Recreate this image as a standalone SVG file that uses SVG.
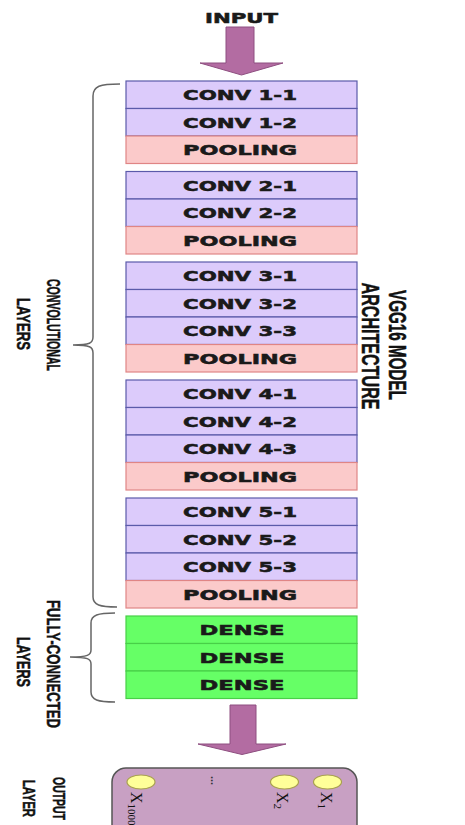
<svg xmlns="http://www.w3.org/2000/svg" width="465" height="825" viewBox="0 0 465 825">
<style>
.conv{fill:#dccbfb;stroke:#5b5baa;stroke-width:1.2}
.pool{fill:#fbcaca;stroke:#e08585;stroke-width:1.2}
.dense{fill:#66ff66;stroke:#48cf48;stroke-width:1.2}
.lbl{font-family:"DejaVu Sans",sans-serif;font-weight:bold;font-size:14.5px;fill:#1a1a1a;stroke:#1a1a1a;stroke-width:0.55;text-anchor:middle}
.side{font-family:"Liberation Sans",Arial,sans-serif;font-weight:bold;fill:#111;stroke:#111;stroke-width:0.5;text-anchor:middle}
.arrow{fill:#b36ca2;stroke:#8e4f80;stroke-width:1}
.brace{fill:none;stroke:#666;stroke-width:1.5}
.bub{fill:#ffff99;stroke:#a8a050;stroke-width:1.2}
.xl{font-family:"Liberation Serif","Times New Roman",serif;fill:#111;font-size:16px}
</style>
<rect width="465" height="825" fill="#ffffff"/>

<g id="input">
<text class="lbl" x="241.5" y="23.3" font-size="12" textLength="73" lengthAdjust="spacingAndGlyphs">INPUT</text>
</g>

<g id="connectors">
<polygon class="arrow" points="226,27 254,27 254,63 283,63 241.5,75 200,63 226,63"/>
<polygon class="arrow" points="230,705 256,705 256,744 286,744 242,754.5 198,744 230,744"/>
<path class="brace" d="M120,84 C100,84 93,86 93,96 V337 C93,343 90,345 73,345 C90,345 93,347 93,353 V597 C93,605 100,607 117,607"/>
<path class="brace" d="M115,613 C98,613 91,615 91,623 V650 C91,655 88,657 70,657 C88,657 91,659 91,664 V692 C91,700 98,702 115,702"/>
</g>

<g id="block1">
<rect class="conv" x="126" y="81" width="231" height="27.5"/>
<text class="lbl" x="240" y="100" textLength="114" lengthAdjust="spacingAndGlyphs">CONV 1-1</text>
<rect class="conv" x="126" y="108.5" width="231" height="27.5"/>
<text class="lbl" x="240" y="127.5" textLength="114" lengthAdjust="spacingAndGlyphs">CONV 1-2</text>
<rect class="pool" x="126" y="136" width="231" height="27.5"/>
<text class="lbl" x="240" y="155" textLength="114" lengthAdjust="spacingAndGlyphs">POOLING</text>
</g>

<g id="block2">
<rect class="conv" x="126" y="171.5" width="231" height="27.5"/>
<text class="lbl" x="240" y="190.5" textLength="114" lengthAdjust="spacingAndGlyphs">CONV 2-1</text>
<rect class="conv" x="126" y="199" width="231" height="27.5"/>
<text class="lbl" x="240" y="218" textLength="114" lengthAdjust="spacingAndGlyphs">CONV 2-2</text>
<rect class="pool" x="126" y="226.5" width="231" height="27.5"/>
<text class="lbl" x="240" y="245.5" textLength="114" lengthAdjust="spacingAndGlyphs">POOLING</text>
</g>

<g id="block3">
<rect class="conv" x="126" y="262" width="231" height="27.5"/>
<text class="lbl" x="240" y="281" textLength="114" lengthAdjust="spacingAndGlyphs">CONV 3-1</text>
<rect class="conv" x="126" y="289.5" width="231" height="27.5"/>
<text class="lbl" x="240" y="308.5" textLength="114" lengthAdjust="spacingAndGlyphs">CONV 3-2</text>
<rect class="conv" x="126" y="317" width="231" height="27.5"/>
<text class="lbl" x="240" y="336" textLength="114" lengthAdjust="spacingAndGlyphs">CONV 3-3</text>
<rect class="pool" x="126" y="344.5" width="231" height="27.5"/>
<text class="lbl" x="240" y="363.5" textLength="114" lengthAdjust="spacingAndGlyphs">POOLING</text>
</g>

<g id="block4">
<rect class="conv" x="126" y="380" width="231" height="27.5"/>
<text class="lbl" x="240" y="399" textLength="114" lengthAdjust="spacingAndGlyphs">CONV 4-1</text>
<rect class="conv" x="126" y="407.5" width="231" height="27.5"/>
<text class="lbl" x="240" y="426.5" textLength="114" lengthAdjust="spacingAndGlyphs">CONV 4-2</text>
<rect class="conv" x="126" y="435" width="231" height="27.5"/>
<text class="lbl" x="240" y="454" textLength="114" lengthAdjust="spacingAndGlyphs">CONV 4-3</text>
<rect class="pool" x="126" y="462.5" width="231" height="27.5"/>
<text class="lbl" x="240" y="481.5" textLength="114" lengthAdjust="spacingAndGlyphs">POOLING</text>
</g>

<g id="block5">
<rect class="conv" x="126" y="498" width="231" height="27.5"/>
<text class="lbl" x="240" y="517" textLength="114" lengthAdjust="spacingAndGlyphs">CONV 5-1</text>
<rect class="conv" x="126" y="525.5" width="231" height="27.5"/>
<text class="lbl" x="240" y="544.5" textLength="114" lengthAdjust="spacingAndGlyphs">CONV 5-2</text>
<rect class="conv" x="126" y="553" width="231" height="27.5"/>
<text class="lbl" x="240" y="572" textLength="114" lengthAdjust="spacingAndGlyphs">CONV 5-3</text>
<rect class="pool" x="126" y="580.5" width="231" height="27.5"/>
<text class="lbl" x="240" y="599.5" textLength="114" lengthAdjust="spacingAndGlyphs">POOLING</text>
</g>

<g id="dense-block">
<rect class="dense" x="126" y="616" width="231" height="27.5"/>
<text class="lbl" x="242" y="635" textLength="85" lengthAdjust="spacingAndGlyphs">DENSE</text>
<rect class="dense" x="126" y="643.5" width="231" height="27.5"/>
<text class="lbl" x="242" y="662.5" textLength="85" lengthAdjust="spacingAndGlyphs">DENSE</text>
<rect class="dense" x="126" y="671" width="231" height="27.5"/>
<text class="lbl" x="242" y="690" textLength="85" lengthAdjust="spacingAndGlyphs">DENSE</text>
</g>

<g id="conv-label">
<text class="side" font-size="19" transform="translate(47,325) rotate(90)" textLength="92" lengthAdjust="spacingAndGlyphs">CONVOLUTIONAL</text>
<text class="side" font-size="19" transform="translate(17,324) rotate(90)" textLength="52" lengthAdjust="spacingAndGlyphs">LAYERS</text>
</g>

<g id="fc-label">
<text class="side" font-size="19" transform="translate(47,664) rotate(90)" textLength="128" lengthAdjust="spacingAndGlyphs">FULLY-CONNECTED</text>
<text class="side" font-size="19" transform="translate(17,662) rotate(90)" textLength="50" lengthAdjust="spacingAndGlyphs">LAYERS</text>
</g>

<g id="title">
<text class="side" font-size="24" transform="translate(389,345) rotate(90)" textLength="110" lengthAdjust="spacingAndGlyphs">VGG16 MODEL</text>
<text class="side" font-size="24" transform="translate(362,346) rotate(90)" textLength="127" lengthAdjust="spacingAndGlyphs">ARCHITECTURE</text>
</g>

<g id="output-label">
<text class="side" font-size="17" transform="translate(53,777) rotate(90) scale(0.615,1)" style="text-anchor:start">OUTPUT</text>
<text class="side" font-size="17" transform="translate(23,780) rotate(90) scale(0.66,1)" style="text-anchor:start">LAYER</text>
</g>

<g id="output-layer">
<rect x="112" y="768" width="245" height="80" rx="14" fill="#c8a0c3" stroke="#555" stroke-width="1.5"/>
<ellipse class="bub" cx="327.5" cy="782" rx="14" ry="7"/>
<ellipse class="bub" cx="284.5" cy="782" rx="14" ry="7"/>
<ellipse class="bub" cx="141" cy="782" rx="14" ry="7"/>
<text class="xl" transform="translate(321,792) rotate(90)">X<tspan font-size="11" dy="3">1</tspan></text>
<text class="xl" transform="translate(277,792) rotate(90)">X<tspan font-size="11" dy="3">2</tspan></text>
<text class="xl" transform="translate(131,792) rotate(90)">X<tspan font-size="11" dy="3">1000</tspan></text>
<text font-family="Liberation Sans,sans-serif" font-size="11" font-weight="bold" fill="#333" transform="translate(211,776) rotate(90)">...</text>
</g>
</svg>
